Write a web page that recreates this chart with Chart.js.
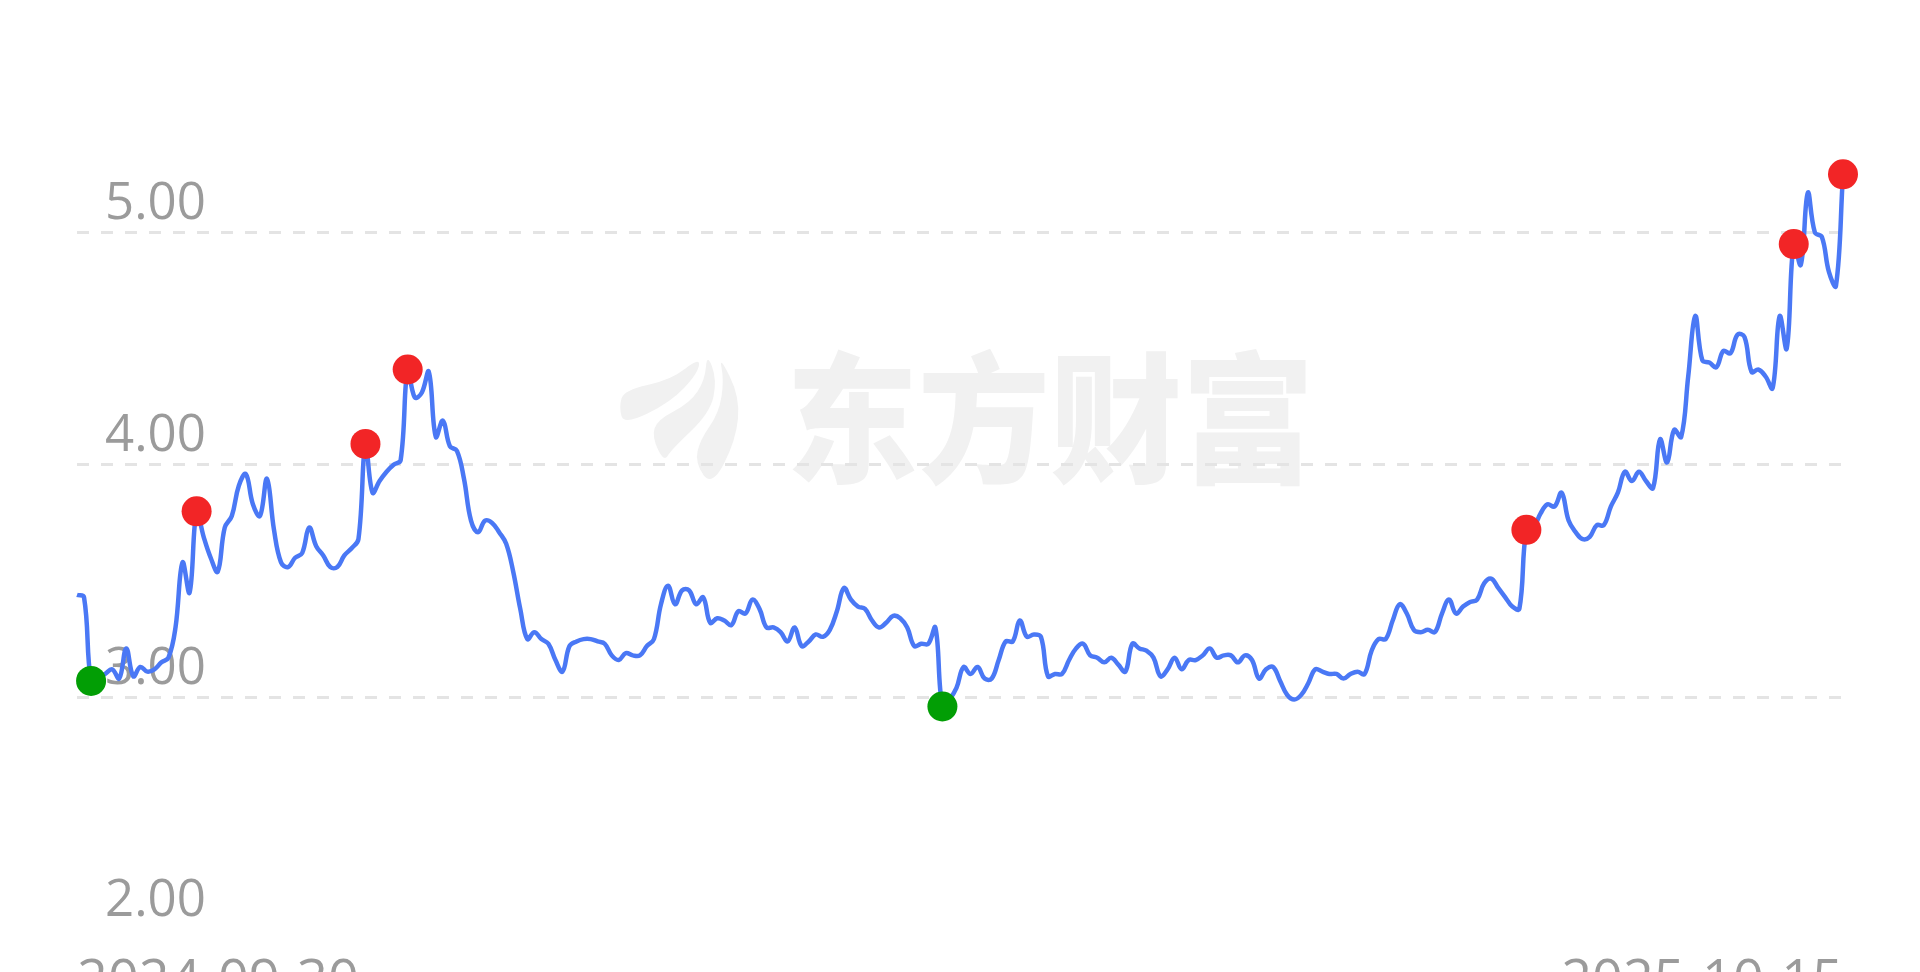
<!DOCTYPE html>
<html>
<head>
<meta charset="utf-8">
<script src="https://cdn.jsdelivr.net/npm/chart.js@4/dist/chart.umd.min.js"></script>
<style>
  html, body { margin: 0; padding: 0; background: #ffffff; }
  #wrap { width: 1920px; height: 972px; position: relative; }
</style>
</head>
<body>
<div id="wrap"><canvas id="c"></canvas></div>
<script>
// ---- data ----
const tickLabels = ['2024-09-30', '2025-10-15'];
const yTickValues = [2, 3, 4, 5, 6];
const prices = [
  3.44, 3.43, 3.07, 3.08, 3.10, 3.12, 3.08, 3.21, 3.09, 3.13,
  3.11, 3.12, 3.15, 3.17, 3.30, 3.58, 3.45, 3.80, 3.69, 3.60,
  3.54, 3.73, 3.78, 3.91, 3.96, 3.83, 3.78, 3.94, 3.72, 3.58,
  3.56, 3.60, 3.62, 3.73, 3.65, 3.61, 3.56, 3.56, 3.61, 3.64,
  3.68, 4.09, 3.88, 3.93, 3.97, 4.00, 4.02, 4.41, 4.29, 4.31,
  4.40, 4.12, 4.19, 4.08, 4.06, 3.94, 3.76, 3.71, 3.76, 3.75,
  3.71, 3.66, 3.54, 3.38, 3.25, 3.28, 3.25, 3.23, 3.16, 3.11,
  3.22, 3.24, 3.25, 3.25, 3.24, 3.23, 3.18, 3.16, 3.19, 3.18,
  3.18, 3.22, 3.25, 3.40, 3.48, 3.40, 3.46, 3.46, 3.40, 3.43,
  3.32, 3.34, 3.33, 3.31, 3.37, 3.36, 3.42, 3.38, 3.30, 3.30,
  3.28, 3.24, 3.30, 3.22, 3.24, 3.27, 3.26, 3.29, 3.37, 3.47,
  3.42, 3.39, 3.38, 3.33, 3.30, 3.32, 3.35, 3.34, 3.30, 3.22,
  3.23, 3.23, 3.30, 2.96, 2.99, 3.04, 3.13, 3.10, 3.13, 3.08,
  3.08, 3.16, 3.24, 3.24, 3.33, 3.26, 3.27, 3.26, 3.09, 3.10,
  3.10, 3.16, 3.21, 3.23, 3.18, 3.17, 3.15, 3.17, 3.14, 3.11,
  3.23, 3.21, 3.20, 3.17, 3.09, 3.12, 3.17, 3.12, 3.16, 3.16,
  3.18, 3.21, 3.17, 3.18, 3.18, 3.15, 3.18, 3.16, 3.08, 3.12,
  3.13, 3.07, 3.01, 2.99, 3.01, 3.06, 3.12, 3.11, 3.10, 3.10,
  3.08, 3.10, 3.11, 3.10, 3.20, 3.25, 3.25, 3.33, 3.40, 3.36,
  3.29, 3.28, 3.29, 3.28, 3.36, 3.42, 3.36, 3.39, 3.41, 3.42,
  3.49, 3.51, 3.47, 3.43, 3.39, 3.38, 3.72, 3.73, 3.79, 3.83,
  3.82, 3.88, 3.76, 3.71, 3.68, 3.69, 3.74, 3.74, 3.82, 3.88,
  3.97, 3.93, 3.97, 3.93, 3.90, 4.11, 4.01, 4.15, 4.12, 4.38,
  4.64, 4.45, 4.44, 4.42, 4.49, 4.48, 4.56, 4.55, 4.40, 4.41,
  4.38, 4.33, 4.64, 4.50, 4.95, 4.86, 5.17, 5.00, 4.98, 4.83,
  4.77, 5.25
];
const highMarks = [17, 41, 47, 206, 244, 251];
const lowMarks = [2, 123];
const watermarkText = '东方财富';

// ---- colours / styles ----
const LINE_BLUE = '#4a78f5';
const RED = '#f22526';
const GREEN = '#029e05';
const LABEL_GRAY = '#9b9b9b';
const GRID_GRAY = '#e4e4e4';
const WM_GRAY = '#f1f1f1';

const watermarkPlugin = {
  id: 'watermark',
  beforeDraw(chart) {
    const ctx = chart.ctx;
    ctx.save();
    ctx.fillStyle = '#ffffff';
    ctx.fillRect(0, 0, chart.width, chart.height);
    ctx.fillStyle = WM_GRAY;
    const shapes = [
      [[624,390],[671,380],[700,357],[698,373],[671,402],[624,425],[619,407]],
      [[707,353],[717,380],[710,413],[671,450],[664,462],[652,437],[657,420],[690,403],[705,380]],
      [[719,355],[740,397],[736,440],[712,487],[695,463],[700,440],[719,413],[724,380]]
    ];
    shapes.forEach(pts => {
      ctx.beginPath();
      const n = pts.length;
      const mid = (a, b) => [(a[0]+b[0])/2, (a[1]+b[1])/2];
      const m0 = mid(pts[n-1], pts[0]);
      ctx.moveTo(m0[0], m0[1]);
      for (let k = 0; k < n; k++) {
        const p = pts[k], q = pts[(k+1)%n];
        const m = mid(p, q);
        ctx.quadraticCurveTo(p[0], p[1], m[0], m[1]);
      }
      ctx.closePath();
      ctx.fill();
    });
    ctx.translate(1050, 418);
    ctx.scale(1, 1.07);
    ctx.font = '900 132px "Noto Sans CJK SC"';
    ctx.textAlign = 'center';
    ctx.textBaseline = 'middle';
    ctx.fillText(watermarkText, 0, 0);
    ctx.restore();
  }
};

const ctx = document.getElementById('c').getContext('2d');
new Chart(ctx, {
  type: 'line',
  data: {
    datasets: [{
      data: prices.map((v, i) => ({ x: i, y: v })),
      borderColor: LINE_BLUE,
      borderWidth: 4.5,
      tension: 0.4,
      fill: false,
      pointRadius: c => (highMarks.includes(c.dataIndex) || lowMarks.includes(c.dataIndex)) ? 15 : 0,
      pointHoverRadius: 0,
      pointBorderWidth: 0,
      pointBackgroundColor: c => highMarks.includes(c.dataIndex) ? RED : (lowMarks.includes(c.dataIndex) ? GREEN : 'rgba(0,0,0,0)'),
      clip: false
    }]
  },
  options: {
    responsive: true,
    maintainAspectRatio: false,
    animation: false,
    events: [],
    layout: { autoPadding: false, padding: { left: 77, right: 77, top: 0, bottom: 0 } },
    plugins: { legend: { display: false }, tooltip: { enabled: false } },
    scales: {
      x: {
        type: 'linear',
        min: 0,
        max: prices.length - 1,
        afterBuildTicks: s => { s.ticks = [{ value: 0 }, { value: prices.length - 1 }]; },
        afterFit: s => { s.height = 42.4; s.paddingLeft = 0; s.paddingRight = 0; },
        grid: { display: false, drawTicks: false },
        border: { display: false },
        ticks: {
          autoSkip: false,
          maxRotation: 0,
          align: 'inner',
          padding: 21,
          color: LABEL_GRAY,
          font: { family: '"Open Sans"', size: 54 },
          callback: v => (v === 0 ? tickLabels[0] : tickLabels[1])
        }
      },
      y: {
        min: yTickValues[0],
        max: yTickValues[yTickValues.length - 1],
        afterBuildTicks: s => { s.ticks = yTickValues.map(v => ({ value: v })); },
        afterFit: s => { s.width = 0; s.paddingTop = 0; s.paddingBottom = 0; },
        grid: {
          drawTicks: false,
          lineWidth: 3,
          color: c => (c.tick && (c.tick.value === 2 || c.tick.value === 6)) ? 'rgba(0,0,0,0)' : GRID_GRAY
        },
        border: { display: false, dash: [12, 12] },
        ticks: {
          mirror: true,
          padding: 28,
          labelOffset: -28,
          color: LABEL_GRAY,
          font: { family: '"Open Sans"', size: 51 },
          callback: v => Number(v).toFixed(2)
        }
      }
    }
  },
  plugins: [watermarkPlugin]
});
</script>
</body>
</html>
